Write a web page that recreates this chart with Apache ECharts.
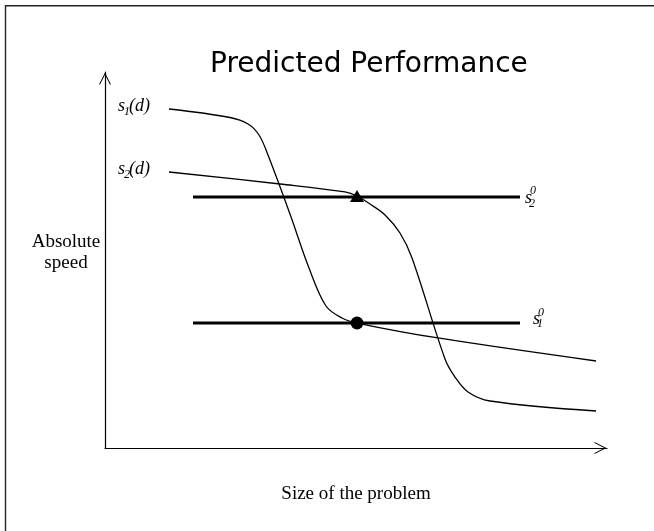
<!DOCTYPE html>
<html><head><meta charset="utf-8">
<script src="https://cdn.jsdelivr.net/npm/echarts@6/dist/echarts.min.js"></script>
<style>html,body{margin:0;padding:0;background:#fff}#c{width:654px;height:531px}</style>
</head><body><div id="c"></div>
<script>
// ---- data ----
const titleText = 'Predicted Performance';
const xAxisName = 'Size of the problem';
const yAxisName = 'Absolute\nspeed';
const s1X = [12.75, 24.9, 28.49, 30.68, 32.47, 36.85, 40.64, 44.02, 47.21, 50.2, 66.33, 97.81];
const s1Y = [90.16, 87.9, 86.17, 83.24, 77.93, 62.23, 47.87, 37.77, 34.57, 33.24, 29.26, 23.14];
const s2X = [12.75, 34.86, 47.81, 50.2, 52.79, 55.78, 58.76, 61.16, 67.73, 69.72, 72.31, 76.69, 97.81];
const s2Y = [73.4, 70.21, 68.09, 67.02, 64.89, 61.97, 57.18, 50.53, 23.67, 18.88, 14.89, 12.5, 9.84];
const refX = [17.53, 82.67];
const ref2Y = 66.76;
const ref1Y = 33.24;
const markX = 50.2;
const triY = 67.0;
const dotY = 33.24;
const curveNames = ['s1(d)', 's2(d)'];
const refNames = ['s1^0', 's2^0'];

// ---- chart ----
const chart = echarts.init(document.getElementById('c'), null, {renderer: 'canvas'});
const serif = 'Liberation Serif';
const zip = (xs, ys) => xs.map((x, i) => [x, ys[i]]);
const chevron = 'path://M6,0L12,12L10.9,12L6,2.2L1.1,12L0,12Z';
const axisCommon = {
  type: 'value', min: 0, max: 100,
  axisLine: {show: true, lineStyle: {color: '#000', width: 1.2}, symbol: ['none', chevron], symbolSize: [12, 13], symbolOffset: [0, -6.5]},
  axisTick: {show: false}, axisLabel: {show: false}, splitLine: {show: false}
};
const option = {
  animation: false,
  backgroundColor: '#fff',
  title: {text: titleText, left: 205, top: 46, textStyle: {fontFamily: 'DejaVu Sans', fontSize: 28, fontWeight: 'normal', color: '#000'}},
  grid: {left: 105, right: 47, top: 72, bottom: 83},
  xAxis: Object.assign({}, axisCommon, {
    name: xAxisName, nameLocation: 'middle', nameGap: 37,
    nameTextStyle: {fontFamily: serif, fontSize: 19, color: '#000'}
  }),
  yAxis: Object.assign({}, axisCommon, {}),
  series: [
    {name: curveNames[0], type: 'line', data: zip(s1X, s1Y), smooth: 0.35, symbol: 'none', lineStyle: {color: '#000', width: 1.3}, z: 2},
    {name: curveNames[1], type: 'line', data: zip(s2X, s2Y), smooth: 0.35, symbol: 'none', lineStyle: {color: '#000', width: 1.3}, z: 2},
    {name: refNames[1], type: 'line', data: [[refX[0], ref2Y], [refX[1], ref2Y]], symbol: 'none', lineStyle: {color: '#000', width: 3}, z: 3},
    {name: refNames[0], type: 'line', data: [[refX[0], ref1Y], [refX[1], ref1Y]], symbol: 'none', lineStyle: {color: '#000', width: 3}, z: 3},
    {type: 'scatter', data: [[markX, triY]], symbol: 'triangle', symbolSize: [14, 12], itemStyle: {color: '#000', opacity: 1}, z: 5},
    {type: 'scatter', data: [[markX, dotY]], symbol: 'circle', symbolSize: 13, itemStyle: {color: '#000', opacity: 1}, z: 5}
  ]
};
chart.setOption(option);

// ---- labels anchored to data through the grid's scales ----
const px = p => chart.convertToPixel({gridIndex: 0}, p);
const it = (size) => ({fontFamily: serif, fontStyle: 'italic', fontSize: size, fill: '#000'});
function txt(x, y, text, size) {
  return {type: 'text', x: x, y: y, silent: true, style: Object.assign(it(size), {text: text, align: 'left', verticalAlign: 'middle'})};
}
const graphics = [
  {type: 'polyline', silent: true, shape: {points: [[5.5, 531], [5.5, 5.8], [654, 5.8]]}, style: {stroke: '#222', lineWidth: 1.4, fill: null}}
];
// y axis title, placed left of the axis middle
{
  const p = px([0, 50]);
  graphics.push({type: 'text', x: p[0] - 39, y: p[1] - 7, silent: true,
    style: {text: yAxisName, fontFamily: serif, fontSize: 19, lineHeight: 21, fill: '#000', align: 'center', verticalAlign: 'middle'}});
}
// curve labels s_i(d)
[[s1X[0], s1Y[0], '1'], [s2X[0], s2Y[0], '2']].forEach(([x, y, k]) => {
  const p = px([x, y]);
  graphics.push(txt(p[0] - 51, p[1] - 3, 's', 18));
  graphics.push(txt(p[0] - 45, p[1] + 3, k, 12));
  graphics.push(txt(p[0] - 40, p[1] - 3, '(d)', 18));
});
// reference labels s_i^0
{
  const p = px([refX[1], ref2Y]);
  graphics.push(txt(p[0] + 5, p[1] + 1, 's', 18));
  graphics.push(txt(p[0] + 10, p[1] - 6, '0', 12));
  graphics.push(txt(p[0] + 9, p[1] + 7, '2', 12));
}
{
  const p = px([refX[1], ref1Y]);
  graphics.push(txt(p[0] + 13, p[1] - 4, 's', 18));
  graphics.push(txt(p[0] + 18, p[1] - 10, '0', 12));
  graphics.push(txt(p[0] + 17, p[1] + 1, '1', 12));
}
chart.setOption({graphic: graphics});
</script>
</body></html>
